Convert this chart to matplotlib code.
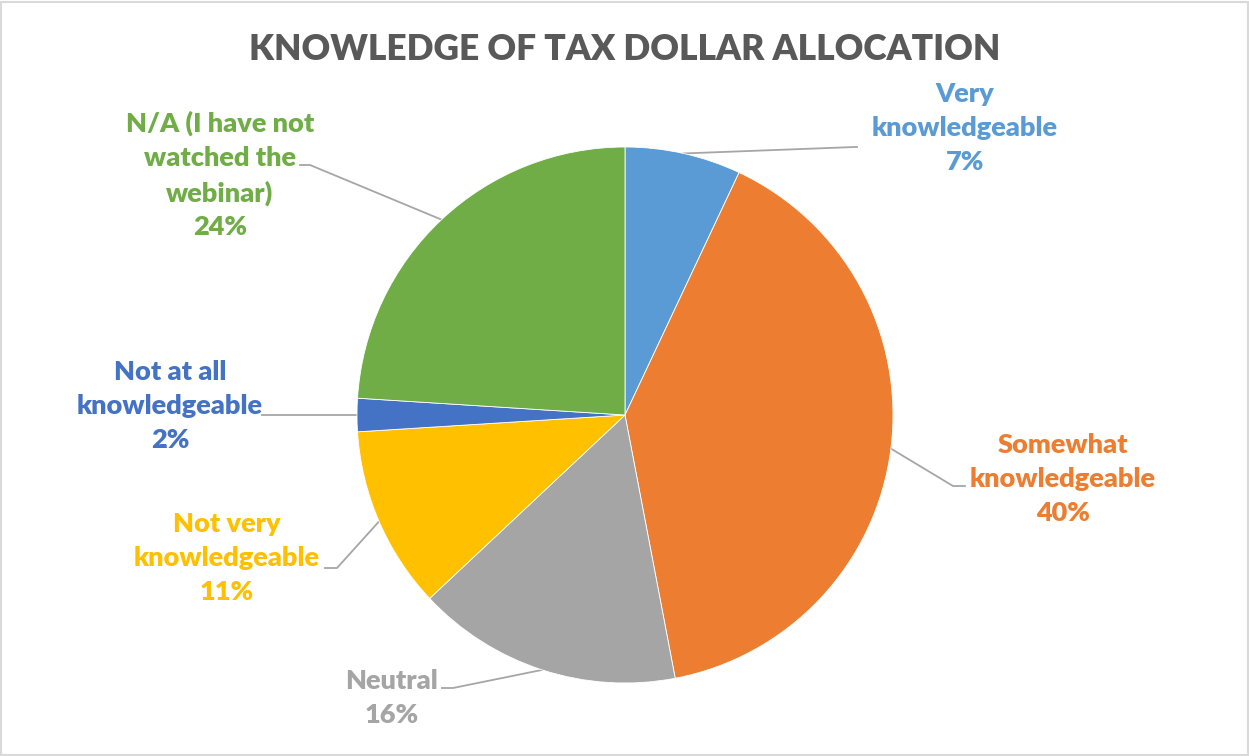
import matplotlib
matplotlib.use("Agg")

import numpy as np
import matplotlib.pyplot as plt
from matplotlib.patches import Rectangle

# -----------------------------
# DATA
# -----------------------------
categories = [
    "Very\nknowledgeable",
    "Somewhat\nknowledgeable",
    "Neutral",
    "Not very\nknowledgeable",
    "Not at all\nknowledgeable",
    "N/A (I have not\nwatched the\nwebinar)",
]
shares = [7, 40, 16, 11, 2, 24]
colours = ["#5B9BD5", "#ED7D31", "#A5A5A5", "#FFC000", "#4472C4", "#70AD47"]

# label text centre (pixels, origin bottom-left) and elbow of each leader line
label_pos = [(965, 628), (1063, 277), (392, 58), (227, 198), (170, 350), (220, 581)]
elbows = [(855, 609), (953, 270), (453, 68), (337, 188), (265, 341), (310, 591)]
line_ends = [(857, 609), (965, 270), (442, 68), (325, 188), (262, 341), (300, 591)]

W, H = 1249, 756
CENTER = (625, H - 415)
RADIUS = 268

plt.rcParams["font.family"] = ["Lato", "DejaVu Sans"]

fig = plt.figure(figsize=(W / 100, H / 100), dpi=100)
ax = fig.add_axes([0, 0, 1, 1])

wedges, _ = ax.pie(
    shares,
    colors=colours,
    startangle=90,
    counterclock=False,
    center=CENTER,
    radius=RADIUS,
    wedgeprops=dict(edgecolor="white", linewidth=0.6),
)

ax.set_xlim(0, W)
ax.set_ylim(0, H)
ax.set_aspect("equal")
ax.axis("off")

# leader lines: wedge arc midpoint -> elbow -> label
for w, (ex, ey), (lx, ly) in zip(wedges, elbows, line_ends):
    mid = np.deg2rad((w.theta1 + w.theta2) / 2)
    px = CENTER[0] + RADIUS * np.cos(mid)
    py = CENTER[1] + RADIUS * np.sin(mid)
    ax.plot([px, ex, lx], [py, ey, ly], color="#A6A6A6", linewidth=1.3, zorder=0)

# data labels
for cat, val, col, (tx, ty) in zip(categories, shares, colours, label_pos):
    ax.text(tx, ty, f"{cat}\n{val}%", ha="center", va="center", color=col,
            fontsize=19.5, fontweight=800, linespacing=1.48)

ax.text(W / 2, H - 50, "KNOWLEDGE OF TAX DOLLAR ALLOCATION", ha="center", va="center",
        color="#595959", fontsize=25.5, fontweight=800)

# chart area border
fig.patches.append(Rectangle((0.001, 0.001), 0.998, 0.997, transform=fig.transFigure,
                             fill=False, edgecolor="#D9D9D9", linewidth=1.5))

fig.savefig("out.png", dpi=100, facecolor="white")
